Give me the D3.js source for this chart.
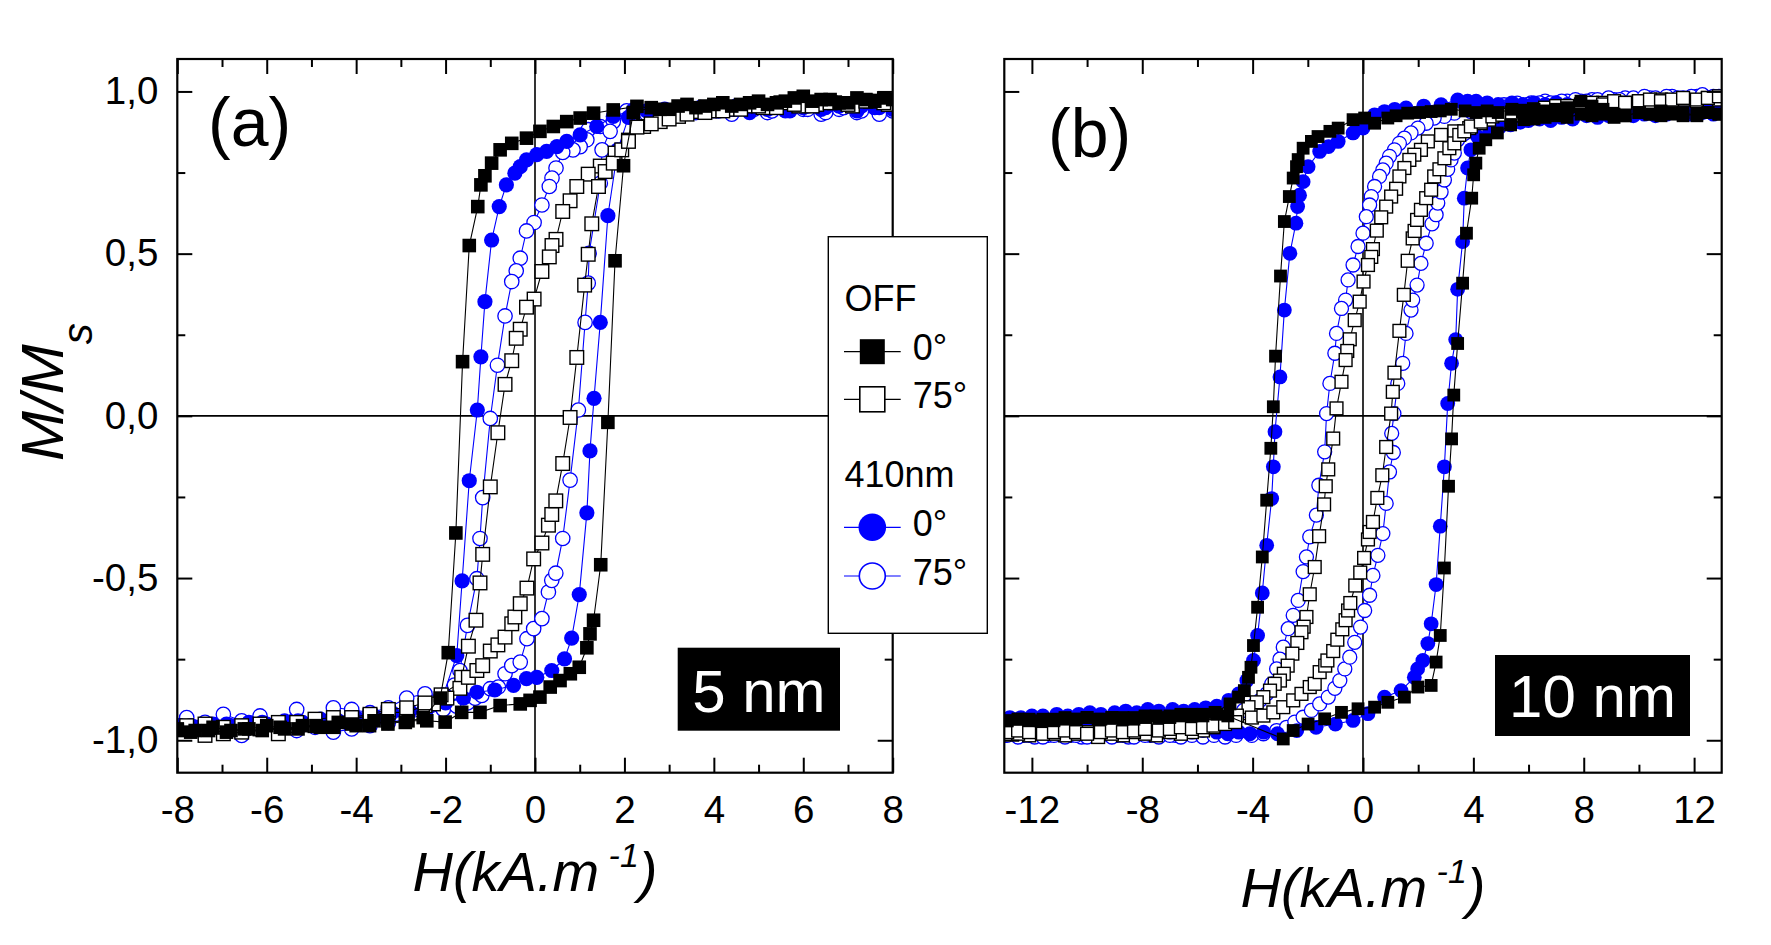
<!DOCTYPE html>
<html>
<head>
<meta charset="utf-8">
<script src="https://cdn.jsdelivr.net/npm/d3@7"></script>
<style>
  body { margin: 0; background: #fff; }
  text { font-family: "Liberation Sans", Arial, sans-serif; }
</style>
</head>
<body>
<svg id="chart" width="1771" height="945"></svg>
<script>
// ---- data: [H (kA/m), M/Ms] along the measured sweep ----
// panel (a) 5 nm
const aOff0Down = [[8.0,0.975],[7.6,0.97],[7.2,0.98],[6.8,0.965],[6.4,0.975],[6.0,0.985],[5.6,0.97],[5.2,0.96],[4.8,0.965],[4.4,0.955],[4.0,0.96],[3.6,0.95],[3.2,0.955],[2.8,0.945],[2.28,0.954],[1.75,0.943],[1.31,0.933],[1.01,0.918],[0.71,0.907],[0.41,0.892],[0.11,0.877],[-0.19,0.856],[-0.52,0.84],[-0.78,0.82],[-0.97,0.779],[-1.12,0.74],[-1.21,0.712],[-1.28,0.645],[-1.47,0.525],[-1.62,0.167],[-1.77,-0.361],[-1.94,-0.73],[-2.12,-0.87],[-2.5,-0.93],[-2.9,-0.945],[-3.3,-0.94],[-3.7,-0.955],[-4.1,-0.95],[-4.5,-0.96],[-4.9,-0.955],[-5.3,-0.965],[-5.7,-0.96],[-6.1,-0.97],[-6.5,-0.965],[-6.9,-0.975],[-7.3,-0.97],[-7.7,-0.975],[-8.0,-0.97]];
const aOff0Up = [[-8.0,-0.965],[-7.6,-0.97],[-7.2,-0.96],[-6.8,-0.97],[-6.4,-0.965],[-6.0,-0.955],[-5.6,-0.965],[-5.2,-0.955],[-4.8,-0.96],[-4.4,-0.945],[-4.0,-0.955],[-3.6,-0.94],[-3.29,-0.95],[-2.84,-0.94],[-2.42,-0.94],[-2.01,-0.944],[-1.64,-0.914],[-1.23,-0.914],[-0.78,-0.893],[-0.33,-0.888],[-0.11,-0.877],[0.11,-0.867],[0.34,-0.836],[0.56,-0.816],[0.79,-0.795],[0.99,-0.775],[1.16,-0.715],[1.23,-0.672],[1.31,-0.63],[1.47,-0.459],[1.63,-0.02],[1.79,0.478],[1.98,0.771],[2.2,0.935],[2.6,0.95],[3.0,0.945],[3.4,0.96],[3.8,0.955],[4.2,0.965],[4.6,0.96],[5.0,0.97],[5.4,0.965],[5.8,0.98],[6.2,0.97],[6.6,0.975],[7.0,0.965],[7.4,0.975],[7.8,0.98]];
const aOff75Down = [[7.9,0.96],[7.5,0.97],[7.1,0.955],[6.7,0.965],[6.3,0.96],[5.9,0.955],[5.5,0.965],[5.1,0.95],[4.7,0.955],[4.3,0.945],[3.9,0.94],[3.62,0.938],[3.21,0.923],[2.8,0.907],[2.43,0.892],[2.09,0.85],[1.79,0.81],[1.46,0.77],[1.19,0.745],[0.935,0.707],[0.785,0.663],[0.62,0.63],[0.47,0.544],[0.38,0.525],[0.32,0.49],[0.155,0.445],[-0.02,0.36],[-0.19,0.335],[-0.33,0.267],[-0.42,0.239],[-0.52,0.17],[-0.67,0.097],[-0.83,-0.052],[-1.0,-0.219],[-1.17,-0.427],[-1.23,-0.515],[-1.32,-0.63],[-1.49,-0.71],[-1.64,-0.806],[-1.68,-0.84],[-1.97,-0.87],[-2.27,-0.888],[-2.46,-0.893],[-2.87,-0.914],[-3.28,-0.914],[-3.69,-0.924],[-4.1,-0.935],[-4.51,-0.94],[-4.92,-0.955],[-5.33,-0.955],[-5.74,-0.98],[-6.15,-0.965],[-6.56,-0.975],[-6.97,-0.98],[-7.38,-0.985],[-7.79,-0.965]];
const aOff75Up = [[-7.79,-0.955],[-7.38,-0.95],[-6.97,-0.96],[-6.56,-0.955],[-6.15,-0.95],[-5.74,-0.945],[-5.33,-0.945],[-4.92,-0.935],[-4.51,-0.93],[-4.1,-0.93],[-3.69,-0.92],[-3.28,-0.905],[-2.87,-0.9],[-2.46,-0.885],[-2.1,-0.86],[-1.49,-0.806],[-1.3,-0.785],[-1.17,-0.77],[-1.0,-0.725],[-0.83,-0.706],[-0.67,-0.682],[-0.52,-0.641],[-0.45,-0.62],[-0.33,-0.579],[-0.18,-0.531],[-0.03,-0.441],[0.155,-0.392],[0.30,-0.337],[0.375,-0.304],[0.465,-0.262],[0.62,-0.147],[0.785,-0.005],[0.935,0.18],[1.11,0.403],[1.19,0.498],[1.27,0.592],[1.42,0.707],[1.57,0.753],[1.75,0.779],[1.94,0.82],[2.09,0.846],[2.28,0.89],[2.6,0.9],[3.0,0.915],[3.4,0.93],[3.8,0.935],[4.2,0.94],[4.6,0.945],[5.0,0.955],[5.4,0.95],[5.8,0.96],[6.2,0.955],[6.6,0.965],[7.0,0.96],[7.4,0.97],[7.8,0.965]];
const aBlue0Down = [[8.0,0.945],[7.6,0.95],[7.2,0.94],[6.8,0.955],[6.4,0.945],[6.0,0.95],[5.6,0.94],[5.2,0.945],[4.8,0.935],[4.4,0.945],[4.0,0.94],[3.6,0.945],[3.2,0.935],[2.7,0.94],[2.2,0.943],[1.75,0.923],[1.38,0.892],[1.01,0.866],[0.71,0.846],[0.49,0.83],[0.26,0.815],[0.04,0.805],[-0.19,0.789],[-0.33,0.768],[-0.45,0.748],[-0.64,0.712],[-0.8,0.645],[-0.97,0.542],[-1.12,0.352],[-1.21,0.182],[-1.29,0.018],[-1.47,-0.2],[-1.63,-0.509],[-1.75,-0.739],[-2.05,-0.86],[-2.5,-0.91],[-2.9,-0.92],[-3.3,-0.935],[-3.7,-0.93],[-4.1,-0.94],[-4.5,-0.935],[-4.9,-0.945],[-5.3,-0.94],[-5.7,-0.95],[-6.1,-0.945],[-6.5,-0.955],[-6.9,-0.95],[-7.3,-0.96],[-7.7,-0.955],[-8.0,-0.96]];
const aBlue0Up = [[-8.0,-0.955],[-7.6,-0.96],[-7.2,-0.95],[-6.8,-0.955],[-6.4,-0.945],[-6.0,-0.95],[-5.6,-0.94],[-5.2,-0.945],[-4.8,-0.935],[-4.4,-0.94],[-4.0,-0.93],[-3.6,-0.925],[-3.2,-0.915],[-2.8,-0.91],[-2.4,-0.9],[-2.0,-0.885],[-1.6,-0.87],[-1.3,-0.852],[-0.9,-0.845],[-0.48,-0.831],[-0.19,-0.81],[0.04,-0.806],[0.375,-0.785],[0.66,-0.749],[0.82,-0.685],[0.99,-0.551],[1.16,-0.299],[1.23,-0.108],[1.32,0.054],[1.46,0.288],[1.63,0.617],[1.85,0.82],[2.09,0.92],[2.5,0.94],[2.9,0.935],[3.3,0.945],[3.7,0.94],[4.1,0.95],[4.5,0.945],[4.9,0.955],[5.3,0.95],[5.7,0.94],[6.1,0.955],[6.5,0.95],[6.9,0.96],[7.3,0.955],[7.7,0.95]];
const aBlue75Down = [[8.0,0.94],[7.6,0.95],[7.2,0.935],[6.8,0.945],[6.4,0.93],[6.0,0.945],[5.6,0.95],[5.2,0.935],[4.8,0.945],[4.4,0.93],[4.0,0.945],[3.6,0.935],[3.2,0.94],[2.8,0.938],[2.43,0.923],[2.05,0.938],[1.75,0.907],[1.46,0.892],[1.19,0.882],[1.16,0.851],[1.01,0.83],[0.85,0.82],[0.62,0.812],[0.47,0.764],[0.38,0.733],[0.32,0.707],[0.155,0.65],[-0.02,0.596],[-0.19,0.57],[-0.33,0.486],[-0.42,0.447],[-0.52,0.414],[-0.67,0.308],[-0.84,0.156],[-1.0,-0.008],[-1.17,-0.252],[-1.23,-0.378],[-1.3,-0.502],[-1.51,-0.646],[-1.68,-0.785],[-1.8,-0.83],[-2.1,-0.865],[-2.46,-0.857],[-2.87,-0.87],[-3.28,-0.9],[-3.69,-0.915],[-4.1,-0.905],[-4.51,-0.9],[-4.92,-0.96],[-5.33,-0.905],[-5.74,-0.95],[-6.15,-0.925],[-6.56,-0.94],[-6.97,-0.92],[-7.38,-0.945],[-7.79,-0.93]];
const aBlue75Up = [[-7.95,-0.955],[-7.38,-0.98],[-6.97,-0.96],[-6.56,-0.985],[-6.15,-0.955],[-5.74,-0.96],[-5.33,-0.97],[-4.92,-0.945],[-4.51,-0.975],[-4.1,-0.965],[-3.69,-0.955],[-3.28,-0.945],[-2.87,-0.935],[-2.46,-0.92],[-2.05,-0.905],[-1.75,-0.895],[-1.51,-0.885],[-1.34,-0.87],[-1.19,-0.862],[-1.0,-0.841],[-0.82,-0.836],[-0.67,-0.795],[-0.52,-0.77],[-0.33,-0.759],[-0.18,-0.687],[-0.03,-0.656],[0.155,-0.625],[0.30,-0.543],[0.375,-0.507],[0.465,-0.485],[0.62,-0.378],[0.785,-0.198],[0.97,0.018],[1.12,0.288],[1.19,0.409],[1.21,0.501],[1.46,0.717],[1.5,0.82],[1.68,0.877],[2.05,0.94],[2.5,0.93],[2.9,0.945],[3.3,0.935],[3.7,0.95],[4.1,0.94],[4.5,0.955],[4.9,0.945],[5.3,0.94],[5.7,0.955],[6.1,0.945],[6.5,0.935],[6.9,0.95],[7.3,0.94],[7.7,0.93]];

// panel (b) 10 nm
const bOff0Down = [[12.9,0.93],[12.5,0.935],[12.1,0.93],[11.6,0.925],[11.2,0.935],[10.8,0.94],[10.4,0.93],[10.0,0.935],[9.5,0.925],[9.1,0.93],[8.7,0.945],[8.3,0.955],[7.9,0.97],[7.4,0.95],[7.0,0.945],[6.6,0.94],[6.2,0.945],[5.8,0.94],[5.4,0.945],[4.9,0.935],[4.5,0.94],[4.1,0.935],[3.7,0.94],[3.2,0.945],[2.8,0.94],[2.47,0.938],[2.05,0.935],[1.62,0.933],[1.2,0.925],[0.9,0.918],[0.42,0.902],[0.06,0.918],[-0.36,0.913],[-0.9,0.887],[-1.2,0.877],[-1.63,0.861],[-1.87,0.846],[-2.17,0.825],[-2.35,0.79],[-2.41,0.768],[-2.53,0.733],[-2.67,0.676],[-2.85,0.599],[-2.99,0.431],[-3.17,0.184],[-3.25,0.028],[-3.34,-0.1],[-3.49,-0.26],[-3.65,-0.435],[-3.82,-0.59],[-3.97,-0.708],[-4.06,-0.775],[-4.15,-0.806],[-4.3,-0.847],[-4.51,-0.867],[-4.82,-0.888],[-5.36,-0.914],[-5.8,-0.92],[-6.2,-0.925],[-6.6,-0.92],[-7.0,-0.93],[-7.5,-0.925],[-7.9,-0.93],[-8.3,-0.935],[-8.7,-0.93],[-9.1,-0.93],[-9.6,-0.935],[-10.0,-0.93],[-10.4,-0.935],[-10.8,-0.93],[-11.2,-0.935],[-11.7,-0.94],[-12.1,-0.935],[-12.5,-0.935],[-12.9,-0.94]];
const bOff0Up = [[-12.9,-0.94],[-12.5,-0.935],[-12.1,-0.94],[-11.6,-0.935],[-11.2,-0.94],[-10.8,-0.935],[-10.4,-0.935],[-10.0,-0.93],[-9.5,-0.935],[-9.1,-0.93],[-8.7,-0.935],[-8.3,-0.93],[-7.9,-0.925],[-7.4,-0.93],[-7.0,-0.925],[-6.6,-0.925],[-6.2,-0.92],[-5.8,-0.925],[-5.3,-0.92],[-4.9,-0.925],[-2.89,-0.996],[-2.53,-0.97],[-1.99,-0.95],[-1.39,-0.934],[-0.78,-0.914],[-0.18,-0.903],[0.42,-0.898],[0.9,-0.883],[1.5,-0.867],[1.99,-0.836],[2.47,-0.831],[2.65,-0.759],[2.8,-0.677],[2.95,-0.469],[3.1,-0.217],[3.21,-0.071],[3.29,0.064],[3.43,0.223],[3.61,0.409],[3.75,0.563],[3.94,0.671],[4.01,0.743],[4.09,0.779],[4.21,0.825],[4.45,0.851],[4.87,0.872],[5.35,0.897],[5.83,0.913],[6.2,0.915],[6.6,0.92],[7.0,0.925],[7.4,0.92],[7.9,0.93],[8.3,0.925],[8.7,0.93],[9.1,0.92],[9.5,0.925],[10.0,0.935],[10.4,0.93],[10.8,0.925],[11.2,0.93],[11.6,0.935],[12.1,0.925],[12.5,0.935],[12.9,0.93]];
const bOff75Down = [[12.9,0.975],[12.5,0.98],[12.1,0.97],[11.6,0.975],[11.2,0.97],[10.8,0.975],[10.4,0.965],[10.0,0.97],[9.5,0.965],[9.1,0.96],[8.7,0.965],[8.3,0.96],[7.9,0.955],[7.4,0.955],[7.0,0.95],[6.6,0.945],[6.2,0.94],[5.9,0.938],[5.47,0.928],[5.05,0.928],[4.57,0.913],[4.27,0.902],[3.85,0.887],[3.31,0.877],[2.83,0.866],[2.35,0.846],[2.1,0.82],[1.86,0.805],[1.68,0.789],[1.5,0.764],[1.32,0.738],[1.2,0.7],[1.02,0.676],[0.84,0.645],[0.66,0.612],[0.5,0.571],[0.36,0.514],[0.3,0.49],[0.18,0.465],[0.02,0.414],[-0.12,0.352],[-0.3,0.295],[-0.48,0.236],[-0.57,0.2],[-0.63,0.172],[-0.78,0.105],[-0.96,0.023],[-1.08,-0.07],[-1.26,-0.165],[-1.35,-0.217],[-1.41,-0.273],[-1.59,-0.371],[-1.75,-0.466],[-1.93,-0.55],[-2.05,-0.62],[-2.15,-0.65],[-2.23,-0.667],[-2.38,-0.7],[-2.56,-0.733],[-2.73,-0.77],[-2.87,-0.795],[-3.01,-0.816],[-3.2,-0.826],[-3.37,-0.847],[-3.61,-0.867],[-3.85,-0.883],[-4.15,-0.898],[-4.57,-0.924],[-5.0,-0.944],[-5.42,-0.96],[-5.8,-0.97],[-6.2,-0.975],[-6.6,-0.98],[-7.0,-0.975],[-7.5,-0.985],[-7.9,-0.98],[-8.3,-0.975],[-8.7,-0.985],[-9.1,-0.98],[-9.6,-0.99],[-10.0,-0.975],[-10.4,-0.98],[-10.8,-0.985],[-11.2,-0.98],[-11.7,-0.975],[-12.1,-0.985],[-12.5,-0.98],[-12.9,-0.975]];
const bOff75Up = [[-12.9,-0.975],[-12.5,-0.97],[-12.1,-0.975],[-11.6,-0.98],[-11.2,-0.975],[-10.8,-0.97],[-10.4,-0.975],[-10.0,-0.98],[-9.5,-0.975],[-9.1,-0.97],[-8.7,-0.975],[-8.3,-0.97],[-7.9,-0.965],[-7.4,-0.97],[-7.0,-0.965],[-6.6,-0.96],[-6.2,-0.965],[-5.8,-0.96],[-5.42,-0.955],[-5.0,-0.95],[-4.63,-0.944],[-4.03,-0.93],[-3.61,-0.924],[-3.25,-0.914],[-2.89,-0.898],[-2.53,-0.877],[-2.23,-0.857],[-1.93,-0.836],[-1.75,-0.826],[-1.57,-0.79],[-1.37,-0.77],[-1.29,-0.754],[-1.08,-0.725],[-0.93,-0.69],[-0.75,-0.658],[-0.63,-0.63],[-0.54,-0.6],[-0.46,-0.577],[-0.28,-0.523],[-0.1,-0.483],[0.04,-0.438],[0.18,-0.381],[0.24,-0.358],[0.36,-0.327],[0.52,-0.253],[0.70,-0.183],[0.84,-0.096],[1.02,0.007],[1.08,0.074],[1.14,0.133],[1.32,0.262],[1.48,0.373],[1.62,0.478],[1.8,0.547],[1.87,0.57],[1.96,0.604],[2.1,0.635],[2.29,0.671],[2.47,0.697],[2.58,0.738],[2.77,0.76],[2.95,0.794],[3.13,0.825],[3.31,0.84],[3.49,0.866],[3.67,0.877],[3.91,0.892],[4.27,0.907],[4.69,0.923],[5.05,0.928],[5.4,0.935],[5.8,0.94],[6.2,0.945],[6.6,0.95],[7.0,0.955],[7.4,0.955],[7.9,0.96],[8.3,0.965],[8.7,0.96],[9.1,0.97],[9.5,0.965],[10.0,0.97],[10.4,0.975],[10.8,0.97],[11.2,0.975],[11.6,0.98],[12.1,0.975],[12.5,0.98],[12.9,0.985]];
const bBlue0Down = [[12.9,0.955],[12.5,0.96],[12.1,0.955],[11.6,0.95],[11.2,0.96],[10.8,0.955],[10.4,0.96],[10.0,0.965],[9.5,0.955],[9.1,0.96],[8.7,0.955],[8.3,0.96],[7.9,0.965],[7.4,0.96],[7.0,0.965],[6.6,0.96],[6.2,0.965],[5.8,0.96],[5.4,0.965],[4.9,0.96],[4.5,0.965],[4.1,0.97],[3.79,0.97],[3.43,0.974],[2.83,0.959],[2.2,0.955],[1.56,0.949],[1.15,0.945],[0.78,0.938],[0.42,0.928],[0.0,0.887],[-0.36,0.872],[-0.9,0.846],[-1.25,0.83],[-1.57,0.815],[-1.99,0.768],[-2.17,0.722],[-2.3,0.68],[-2.37,0.645],[-2.43,0.594],[-2.65,0.501],[-2.85,0.326],[-3.01,0.12],[-3.19,-0.049],[-3.25,-0.157],[-3.31,-0.255],[-3.49,-0.399],[-3.65,-0.546],[-3.82,-0.677],[-3.97,-0.754],[-4.21,-0.816],[-4.51,-0.857],[-4.87,-0.877],[-5.3,-0.895],[-5.7,-0.9],[-6.1,-0.905],[-6.5,-0.91],[-6.9,-0.905],[-7.4,-0.91],[-7.8,-0.905],[-8.2,-0.915],[-8.6,-0.91],[-9.0,-0.915],[-9.5,-0.92],[-9.9,-0.915],[-10.3,-0.92],[-10.7,-0.925],[-11.1,-0.92],[-11.6,-0.925],[-12.0,-0.925],[-12.4,-0.93],[-12.8,-0.93]];
const bBlue0Up = [[-12.9,-0.955],[-12.5,-0.96],[-12.1,-0.955],[-11.6,-0.96],[-11.2,-0.965],[-10.8,-0.96],[-10.4,-0.965],[-10.0,-0.96],[-9.5,-0.965],[-9.1,-0.97],[-8.7,-0.965],[-8.3,-0.97],[-7.9,-0.965],[-7.4,-0.97],[-7.0,-0.975],[-6.6,-0.97],[-6.2,-0.975],[-5.8,-0.97],[-5.3,-0.975],[-4.9,-0.98],[-4.5,-0.975],[-4.1,-0.98],[-3.6,-0.975],[-3.1,-0.98],[-2.4,-0.97],[-1.7,-0.96],[-1.0,-0.95],[-0.36,-0.939],[0.18,-0.918],[0.78,-0.867],[1.38,-0.847],[1.86,-0.806],[1.98,-0.78],[2.17,-0.754],[2.35,-0.702],[2.47,-0.641],[2.65,-0.52],[2.8,-0.34],[2.95,-0.157],[3.07,0.038],[3.21,0.162],[3.36,0.235],[3.43,0.39],[3.61,0.537],[3.67,0.671],[3.79,0.764],[3.91,0.82],[4.15,0.861],[4.6,0.88],[4.95,0.89],[5.35,0.897],[5.7,0.905],[6.0,0.91],[6.4,0.915],[6.8,0.91],[7.2,0.92],[7.6,0.915],[8.1,0.925],[8.5,0.92],[8.9,0.925],[9.3,0.93],[9.8,0.925],[10.2,0.93],[10.6,0.925],[11.0,0.93],[11.4,0.935],[11.9,0.93],[12.3,0.935],[12.7,0.93]];
const bBlue75Down = [[12.9,0.985],[12.5,0.98],[12.1,0.985],[11.6,0.98],[11.2,0.985],[10.8,0.975],[10.4,0.98],[10.0,0.975],[9.5,0.98],[9.1,0.975],[8.7,0.97],[8.3,0.975],[7.9,0.97],[7.4,0.97],[7.0,0.965],[6.6,0.97],[6.1,0.965],[5.59,0.964],[5.11,0.959],[4.51,0.954],[3.91,0.938],[3.31,0.933],[2.95,0.923],[2.58,0.918],[2.29,0.902],[1.99,0.887],[1.74,0.872],[1.5,0.856],[1.32,0.84],[1.14,0.82],[0.96,0.8],[0.84,0.779],[0.72,0.758],[0.6,0.738],[0.42,0.707],[0.3,0.676],[0.24,0.65],[0.12,0.614],[0.0,0.563],[-0.18,0.522],[-0.36,0.465],[-0.54,0.419],[-0.63,0.357],[-0.78,0.331],[-0.96,0.254],[-1.02,0.193],[-1.2,0.1],[-1.32,0.007],[-1.39,-0.111],[-1.6,-0.214],[-1.69,-0.306],[-1.93,-0.373],[-2.05,-0.435],[-2.17,-0.48],[-2.35,-0.569],[-2.53,-0.615],[-2.71,-0.656],[-2.89,-0.713],[-3.01,-0.75],[-3.13,-0.78],[-3.31,-0.826],[-3.49,-0.857],[-3.73,-0.877],[-4.0,-0.895],[-4.33,-0.908],[-4.75,-0.93],[-5.17,-0.95],[-5.6,-0.975],[-6.0,-0.98],[-6.4,-0.975],[-6.8,-0.985],[-7.2,-0.98],[-7.7,-0.985],[-8.1,-0.98],[-8.5,-0.99],[-8.9,-0.985],[-9.3,-0.98],[-9.8,-0.985],[-10.2,-0.99],[-10.6,-0.985],[-11.0,-0.98],[-11.4,-0.985],[-11.9,-0.99],[-12.3,-0.985],[-12.7,-0.98]];
const bBlue75Up = [[-12.9,-0.985],[-12.5,-0.99],[-12.1,-0.985],[-11.6,-0.99],[-11.2,-0.985],[-10.8,-0.99],[-10.4,-0.985],[-10.0,-0.99],[-9.5,-0.985],[-9.1,-0.99],[-8.7,-0.985],[-8.3,-0.99],[-7.9,-0.985],[-7.4,-0.99],[-7.0,-0.985],[-6.6,-0.99],[-6.2,-0.985],[-5.8,-0.99],[-5.4,-0.985],[-5.0,-0.99],[-4.6,-0.985],[-4.03,-0.985],[-3.61,-0.98],[-3.13,-0.97],[-2.77,-0.96],[-2.47,-0.944],[-2.17,-0.929],[-1.87,-0.908],[-1.57,-0.888],[-1.26,-0.867],[-1.02,-0.84],[-0.84,-0.816],[-0.66,-0.78],[-0.48,-0.744],[-0.3,-0.698],[-0.09,-0.651],[0.06,-0.6],[0.24,-0.553],[0.36,-0.492],[0.54,-0.43],[0.72,-0.363],[0.84,-0.27],[0.96,-0.173],[1.1,-0.113],[1.04,-0.054],[1.12,0.007],[1.26,0.1],[1.44,0.162],[1.56,0.254],[1.74,0.326],[1.8,0.357],[1.96,0.403],[2.1,0.47],[2.29,0.532],[2.5,0.592],[2.65,0.62],[2.71,0.656],[2.83,0.69],[2.95,0.727],[3.07,0.76],[3.19,0.789],[3.31,0.81],[3.43,0.851],[3.67,0.87],[3.91,0.885],[4.27,0.917],[4.75,0.94],[5.23,0.953],[5.6,0.955],[6.0,0.96],[6.4,0.965],[6.8,0.965],[7.2,0.97],[7.7,0.975],[8.1,0.97],[8.5,0.975],[8.9,0.98],[9.3,0.975],[9.8,0.98],[10.2,0.985],[10.6,0.98],[11.0,0.985],[11.4,0.98],[11.9,0.985],[12.3,0.99],[12.7,0.985]];

// ---- ticks ----
const aXTicks = [-8, -6, -4, -2, 0, 2, 4, 6, 8];
const aXMinor = [-7, -5, -3, -1, 1, 3, 5, 7];
const bXTicks = [-12, -8, -4, 0, 4, 8, 12];
const bXMinor = [-10, -6, -2, 2, 6, 10];
const yTicks = [-1, -0.5, 0, 0.5, 1];
const yTickLabels = ["-1,0", "-0,5", "0,0", "0,5", "1,0"];
const yMinor = [-0.75, -0.25, 0.25, 0.75];

const blue = "#0000ff";
const svg = d3.select("#chart");
svg.append("rect").attr("width", 1771).attr("height", 945).attr("fill", "#fff");

const plotTop = 59, plotBottom = 772.7;

function drawPanel(p) {
  const x = d3.scaleLinear().domain(p.xDomain).range([p.left, p.right]);
  const y = d3.scaleLinear().domain([-1.1, 1.1]).range([plotBottom, plotTop]);
  const g = svg.append("g");

  g.append("clipPath").attr("id", "clip-" + p.id)
    .append("rect").attr("x", p.left).attr("y", plotTop)
    .attr("width", p.right - p.left).attr("height", plotBottom - plotTop);

  // zero lines
  g.append("line").attr("x1", p.left).attr("x2", p.right)
    .attr("y1", y(0)).attr("y2", y(0)).attr("stroke", "#000").attr("stroke-width", 1.6);
  g.append("line").attr("x1", x(0)).attr("x2", x(0))
    .attr("y1", plotTop).attr("y2", plotBottom).attr("stroke", "#000").attr("stroke-width", 1.6);

  const line = d3.line().x(d => x(d[0])).y(d => y(d[1]));
  const plot = g.append("g").attr("clip-path", `url(#clip-${p.id})`);

  p.series.forEach(s => {
    const sg = plot.append("g");
    [s.down, s.up].forEach(branch => {
      sg.append("path").datum(branch)
        .attr("d", line)
        .attr("fill", "none")
        .attr("stroke", s.color)
        .attr("stroke-width", 1.1);
    });
    const pts = s.down.concat(s.up);
    if (s.shape === "square") {
      sg.selectAll("rect.m").data(pts).join("rect")
        .attr("class", "m")
        .attr("x", d => x(d[0]) - p.sq / 2).attr("y", d => y(d[1]) - p.sq / 2)
        .attr("width", p.sq).attr("height", p.sq)
        .attr("fill", s.filled ? s.color : "#fff")
        .attr("stroke", s.color).attr("stroke-width", s.filled ? 0 : 1.4);
    } else {
      sg.selectAll("circle.m").data(pts).join("circle")
        .attr("class", "m")
        .attr("cx", d => x(d[0])).attr("cy", d => y(d[1]))
        .attr("r", s.filled ? p.rad + 0.4 : p.rad)
        .attr("fill", s.filled ? s.color : "#fff")
        .attr("stroke", s.color).attr("stroke-width", s.filled ? 0 : 1.3);
    }
  });

  // axes: ticks inward on all four sides
  const fmtX = d => (d < 0 ? "-" : "") + Math.abs(d);
  const fmtY = d => yTickLabels[yTicks.indexOf(d)];
  const axes = [
    { ax: d3.axisBottom(x).tickValues(p.xTicks).tickSize(-15).tickPadding(23).tickFormat(fmtX), t: `translate(0,${plotBottom})` },
    { ax: d3.axisBottom(x).tickValues(p.xMinor).tickSize(-8).tickFormat(""), t: `translate(0,${plotBottom})` },
    { ax: d3.axisTop(x).tickValues(p.xTicks).tickSize(-15).tickFormat(""), t: `translate(0,${plotTop})` },
    { ax: d3.axisTop(x).tickValues(p.xMinor).tickSize(-8).tickFormat(""), t: `translate(0,${plotTop})` },
    { ax: d3.axisLeft(y).tickValues(yTicks).tickSize(-15).tickPadding(19).tickFormat(p.yLabels ? fmtY : ""), t: `translate(${p.left},0)` },
    { ax: d3.axisLeft(y).tickValues(yMinor).tickSize(-8).tickFormat(""), t: `translate(${p.left},0)` },
    { ax: d3.axisRight(y).tickValues(yTicks).tickSize(-15).tickFormat(""), t: `translate(${p.right},0)` },
    { ax: d3.axisRight(y).tickValues(yMinor).tickSize(-8).tickFormat(""), t: `translate(${p.right},0)` }
  ];
  axes.forEach(a => {
    const ag = g.append("g").attr("transform", a.t).call(a.ax);
    ag.select(".domain").remove();
    ag.selectAll(".tick line").attr("stroke", "#000").attr("stroke-width", 2);
    ag.selectAll(".tick text").attr("fill", "#000")
      .style("font-family", '"Liberation Sans", Arial, sans-serif').style("font-size", "38.5px");
  });

  // frame
  g.append("rect").attr("x", p.left).attr("y", plotTop)
    .attr("width", p.right - p.left).attr("height", plotBottom - plotTop)
    .attr("fill", "none").attr("stroke", "#000").attr("stroke-width", 2.2);

  // panel letter
  g.append("text").attr("x", p.letterX).attr("y", p.letterY)
    .attr("font-size", 68).text(p.letter);

  // thickness box
  g.append("rect").attr("x", p.box[0]).attr("y", p.box[1])
    .attr("width", p.box[2]).attr("height", p.box[3]).attr("fill", "#000");
  g.append("text").attr("x", p.box[0] + p.box[2] / 2).attr("y", p.boxBase)
    .attr("text-anchor", "middle").attr("fill", "#fff").attr("font-size", 60)
    .text(p.thick);

  // x label
  const xl = g.append("text").attr("x", p.xLabelX).attr("y", p.xLabelY)
    .attr("text-anchor", "middle").attr("font-style", "italic").attr("font-size", 56);
  xl.append("tspan").text("H(kA.m");
  xl.append("tspan").attr("font-size", 34).attr("dy", -24).text("\u00a0-1");
  xl.append("tspan").attr("dy", 24).text(")");
}

drawPanel({
  id: "a", left: 177.3, right: 892.7, xDomain: [-8, 8],
  xTicks: aXTicks, xMinor: aXMinor, yLabels: true, sq: 13.6, rad: 7.2,
  letter: "(a)", letterX: 208, letterY: 146,
  box: [677.7, 647.7, 162.3, 83], boxBase: 711.5, thick: "5 nm",
  xLabelX: 535, xLabelY: 891,
  series: [
    { down: aBlue75Down, up: aBlue75Up, color: blue, shape: "circle", filled: false },
    { down: aBlue0Down, up: aBlue0Up, color: blue, shape: "circle", filled: true },
    { down: aOff75Down, up: aOff75Up, color: "#000", shape: "square", filled: false },
    { down: aOff0Down, up: aOff0Up, color: "#000", shape: "square", filled: true }
  ]
});

drawPanel({
  id: "b", left: 1004.3, right: 1721.7, xDomain: [-13, 13],
  xTicks: bXTicks, xMinor: bXMinor, yLabels: false, sq: 12.8, rad: 7.0,
  letter: "(b)", letterX: 1048, letterY: 157,
  box: [1495, 655, 195, 81], boxBase: 717, thick: "10 nm",
  xLabelX: 1363, xLabelY: 907,
  series: [
    { down: bBlue75Down, up: bBlue75Up, color: blue, shape: "circle", filled: false },
    { down: bBlue0Down, up: bBlue0Up, color: blue, shape: "circle", filled: true },
    { down: bOff75Down, up: bOff75Up, color: "#000", shape: "square", filled: false },
    { down: bOff0Down, up: bOff0Up, color: "#000", shape: "square", filled: true }
  ]
});

// y label M/Ms
const yl = svg.append("text")
  .attr("transform", "translate(63,461) rotate(-90)")
  .attr("font-style", "italic").attr("font-size", 60);
yl.append("tspan").text("M/M");
yl.append("tspan").attr("font-size", 42).attr("dy", 29).text("s");

// legend
const legendGroups = ["OFF", "410nm"];
const legendItems = [
  { group: 0, label: "0°", color: "#000", shape: "square", filled: true },
  { group: 0, label: "75°", color: "#000", shape: "square", filled: false },
  { group: 1, label: "0°", color: blue, shape: "circle", filled: true },
  { group: 1, label: "75°", color: blue, shape: "circle", filled: false }
];
const lg = svg.append("g");
lg.append("rect").attr("x", 828.3).attr("y", 236.7).attr("width", 159).attr("height", 396.6)
  .attr("fill", "#fff").attr("stroke", "#000").attr("stroke-width", 1.4);
const headY = [311, 487];
legendGroups.forEach((t, i) => {
  lg.append("text").attr("x", 844.5).attr("y", headY[i]).attr("font-size", 36).text(t);
});
const rowY = [351.7, 399.3, 527.3, 576];
legendItems.forEach((it, i) => {
  const cy = rowY[i];
  lg.append("line").attr("x1", 844).attr("x2", 900.7).attr("y1", cy).attr("y2", cy)
    .attr("stroke", it.color).attr("stroke-width", 1.2);
  if (it.shape === "square") {
    lg.append("rect").attr("x", 872.3 - 12.5).attr("y", cy - 12.5).attr("width", 25).attr("height", 25)
      .attr("fill", it.filled ? it.color : "#fff").attr("stroke", it.color).attr("stroke-width", it.filled ? 0 : 1.6);
  } else {
    lg.append("circle").attr("cx", 872.3).attr("cy", cy).attr("r", it.filled ? 13.8 : 13)
      .attr("fill", it.filled ? it.color : "#fff").attr("stroke", it.color).attr("stroke-width", it.filled ? 0 : 1.6);
  }
  lg.append("text").attr("x", 912.7).attr("y", cy + 8.5).attr("font-size", 36).text(it.label);
});
</script>
</body>
</html>
